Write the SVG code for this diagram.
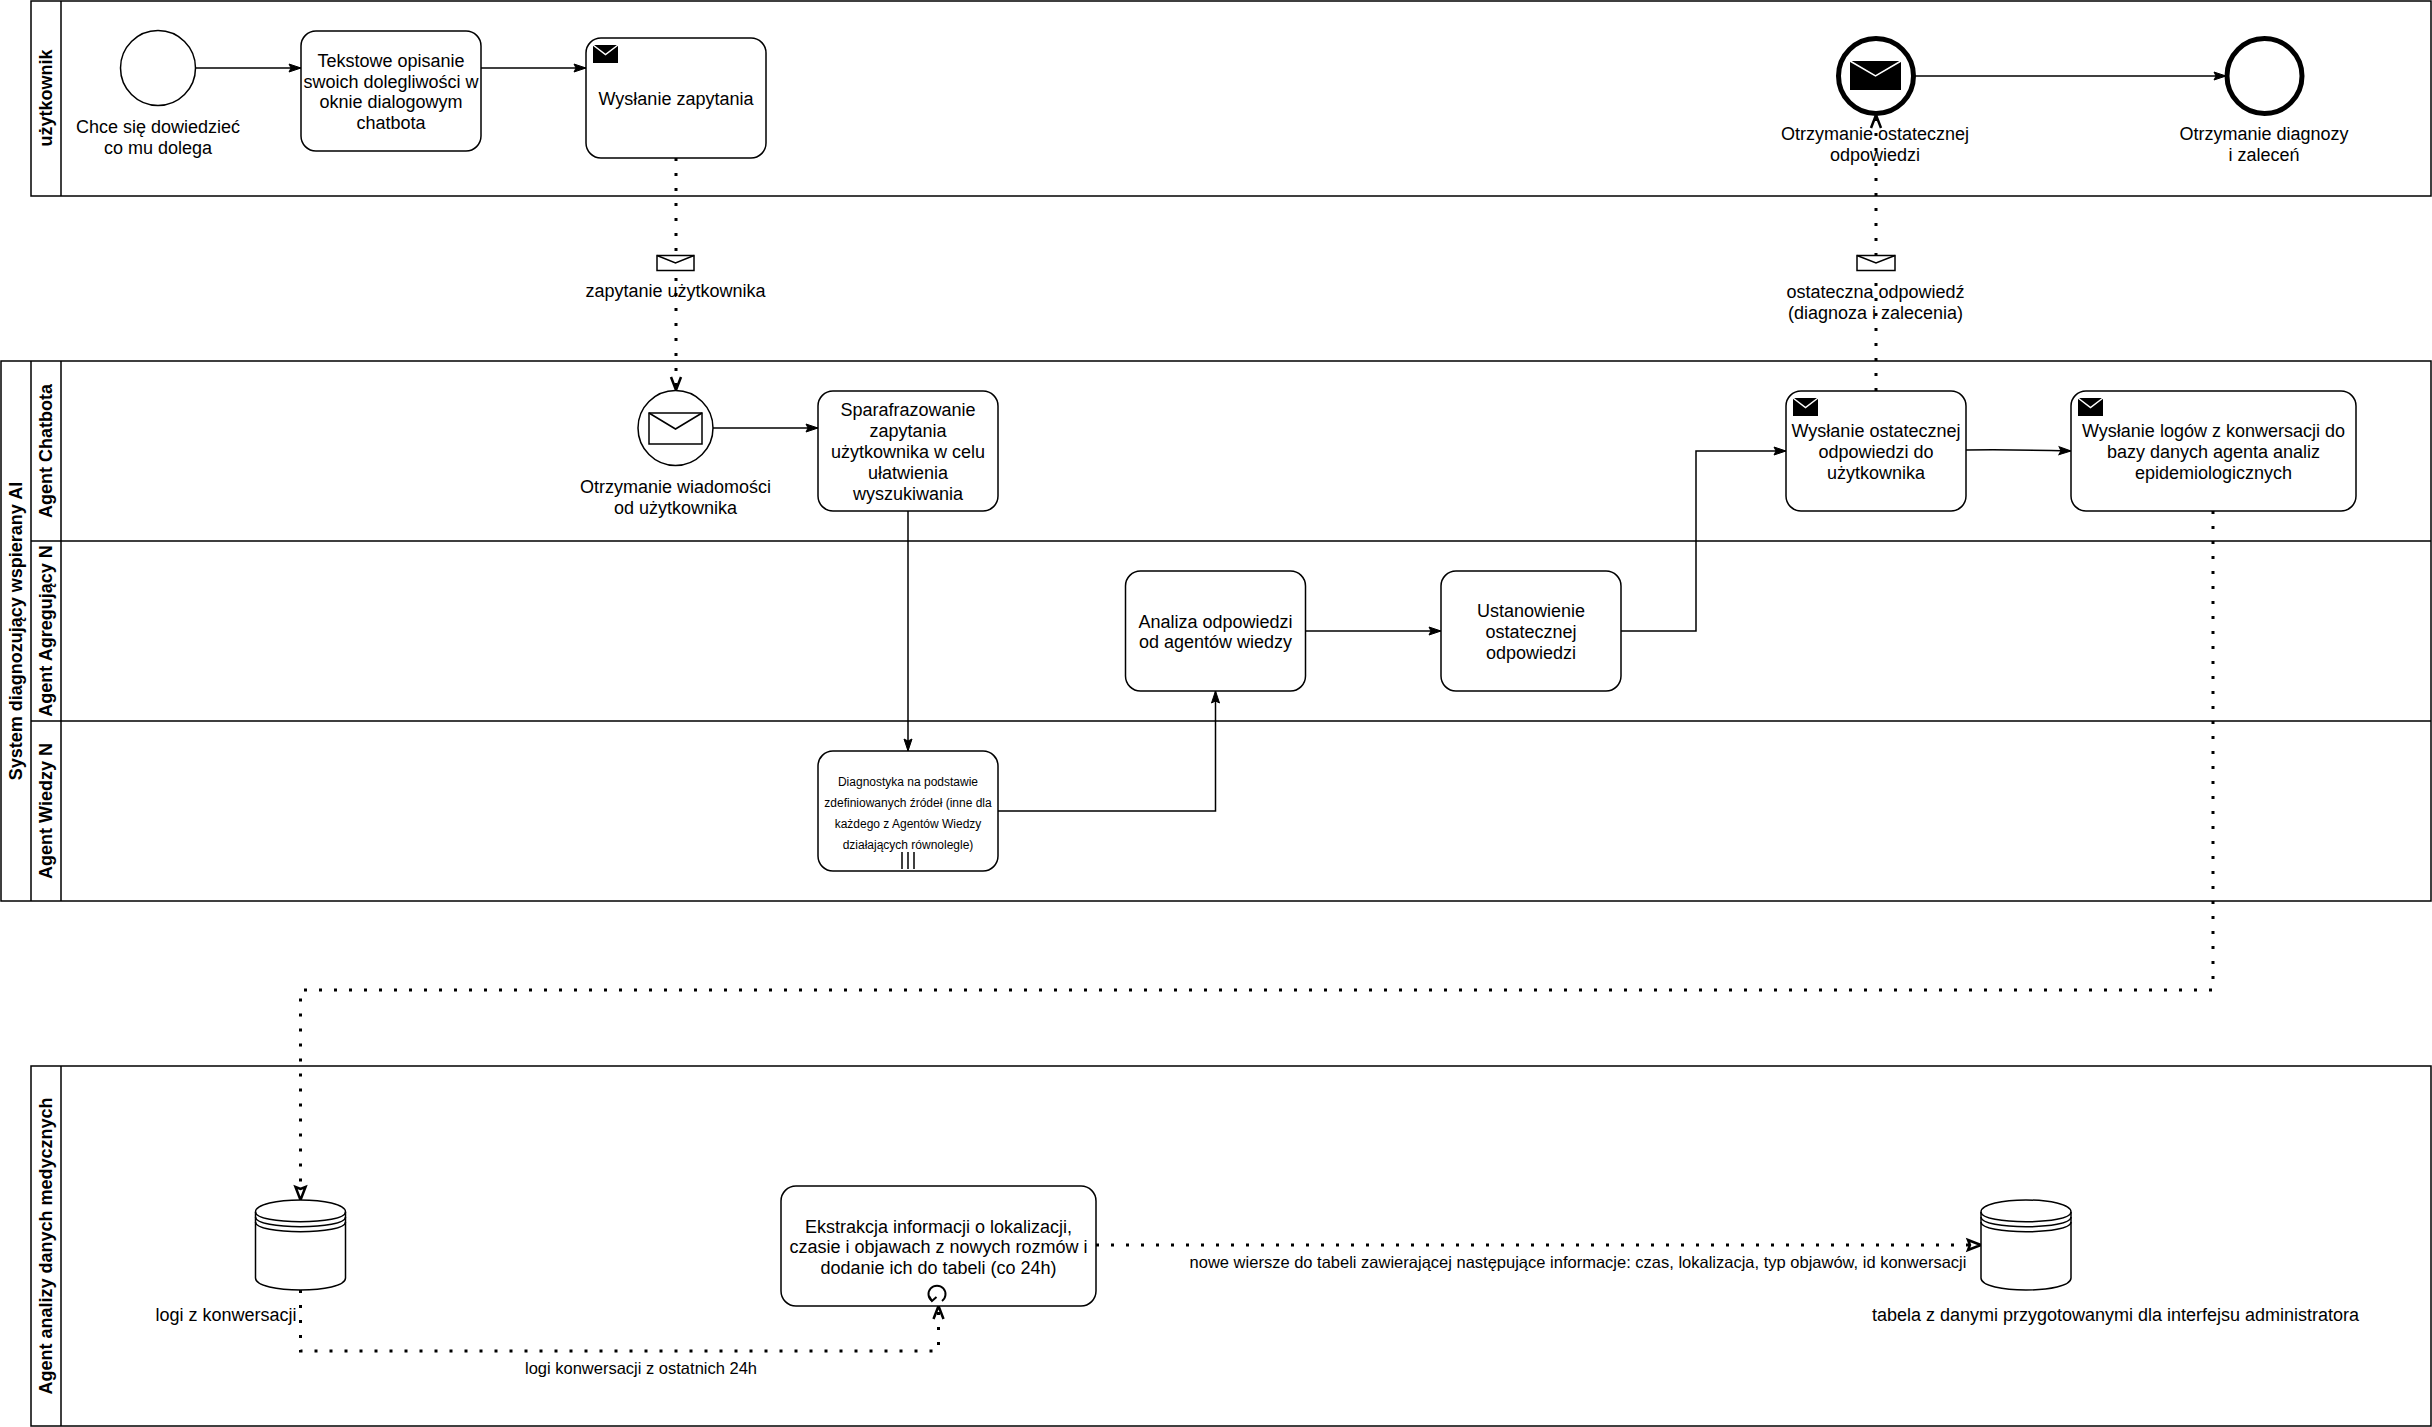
<svg xmlns="http://www.w3.org/2000/svg" width="2432" height="1427" viewBox="0 0 2432 1427">
<style>
text{font-family:"Liberation Sans",Arial,sans-serif;font-size:18px;fill:#000;text-anchor:middle}
.h{font-weight:bold}
.s{font-size:12px}
.m{font-size:16.500px}
.b{fill:#fff;stroke:#000;stroke-width:1.5}
.p{fill:none;stroke:#000;stroke-width:1.5}
.t{fill:#fff;stroke:#000;stroke-width:1.5}
.ev{fill:#fff;stroke:#000;stroke-width:1.5}
.ex{fill:#fff;stroke:#000;stroke-width:5}
.f{fill:none;stroke:#000;stroke-width:1.5;marker-end:url(#solid)}
.d{fill:none;stroke:#000;stroke-width:3;stroke-dasharray:3 12}
.wl{fill:none;stroke:#fff;stroke-width:1.5}
</style>
<defs>
<marker id="solid" markerUnits="userSpaceOnUse" markerWidth="14" markerHeight="10" refX="12" refY="4" orient="auto" overflow="visible"><path d="M0 0L12 4L0 8L2 4Z" fill="#000" stroke="#000" stroke-width="1"/></marker>
<marker id="open" markerUnits="userSpaceOnUse" markerWidth="16" markerHeight="12" refX="13" refY="5" orient="auto" overflow="visible"><path d="M0 0L13 5L0 10" fill="none" stroke="#000" stroke-width="2.500"/></marker>
<marker id="hollow" markerUnits="userSpaceOnUse" markerWidth="16" markerHeight="12" refX="13" refY="5" orient="auto" overflow="visible"><path d="M0 0L13 5L0 10L2 5Z" fill="#fff" stroke="#000" stroke-width="2.500"/></marker>
<g id="mail"><rect x="0" y="0" width="25" height="18" fill="#000"/><path d="M0 0L12.5 9.5L25 0" class="wl"/></g>
<g id="db">
<path d="M0 12C0 -4 90 -4 90 12V78C90 94 0 94 0 78Z" class="b"/>
<path d="M0 12C0 25 90 25 90 12M0 17C0 30 90 30 90 17M0 22C0 35 90 35 90 22" class="p"/>
</g>
</defs>

<g id="pool-uzytkownik">
<rect x="31" y="1" width="2400" height="195" class="b"/><path d="M61 1V196" class="p"/>
<text class="h" transform="translate(52 98) rotate(-90)">użytkownik</text>
</g>
<g id="pool-system">
<rect x="1" y="361" width="2430" height="540" class="b"/><path d="M31 361V901M61 361V901M31 541H2431M31 721H2431" class="p"/>
<text class="h" transform="translate(22 631) rotate(-90)">System diagnozujący wspierany AI</text>
<text class="h" transform="translate(52 451) rotate(-90)">Agent Chatbota</text>
<text class="h" transform="translate(52 631) rotate(-90)">Agent Agregujący N</text>
<text class="h" transform="translate(52 811) rotate(-90)">Agent Wiedzy N</text>
</g>
<g id="pool-analiza">
<rect x="31" y="1066" width="2400" height="360" class="b"/><path d="M61 1066V1426" class="p"/>
<text class="h" transform="translate(52 1246) rotate(-90)">Agent analizy danych medycznych</text>
</g>

<g id="connectors">
<path class="f" d="M195 68H301"/>
<path class="f" d="M481 68H586"/>
<path class="f" d="M1915 76H2226"/>
<path class="f" d="M713 428H818"/>
<path class="f" d="M908 511V751"/>
<path class="f" d="M998 811H1215.500V691"/>
<path class="f" d="M1305.500 631H1441"/>
<path class="f" d="M1621 631H1696V451H1786"/>
<path class="f" d="M1966 450C2000 449.500 2035 450 2071 451"/>
<path class="d" marker-end="url(#open)" d="M676 158V390"/>
<path class="d" marker-end="url(#open)" d="M1876 391V115"/>
<path class="d" marker-end="url(#hollow)" d="M2213 511V990H300.500V1200"/>
<path class="d" marker-end="url(#open)" d="M300.500 1290V1351H938.500V1306"/>
<path class="d" marker-end="url(#hollow)" d="M1096 1245H1981"/>
</g>

<g id="start-event"><ellipse cx="158" cy="68" rx="37.500" ry="37.500" class="ev"/><text x="158" y="133">Chce się dowiedzieć</text><text x="158" y="154">co mu dolega</text></g>
<g id="task-opis"><rect x="301" y="31" width="180" height="120" rx="15" class="t"/><text x="391" y="67">Tekstowe opisanie</text><text x="391" y="88">swoich dolegliwości w</text><text x="391" y="108">oknie dialogowym</text><text x="391" y="129">chatbota</text></g>
<g id="task-zapytanie"><rect x="586" y="38" width="180" height="120" rx="15" class="t"/><use href="#mail" x="593" y="45"/><text x="676" y="105">Wysłanie zapytania</text></g>
<g id="event-odpowiedz"><ellipse cx="1876" cy="76" rx="37.500" ry="37.500" class="ex"/><rect x="1850" y="61" width="51" height="29" fill="#000"/><path d="M1850 61L1875.500 76L1901 61" fill="none" stroke="#fff" stroke-width="1.500"/><text x="1875" y="140">Otrzymanie ostatecznej</text><text x="1875" y="161">odpowiedzi</text></g>
<g id="end-event"><ellipse cx="2264.500" cy="76" rx="37.500" ry="37.500" class="ex"/><text x="2264" y="140">Otrzymanie diagnozy</text><text x="2264" y="161">i zaleceń</text></g>
<g id="message-zapytanie"><rect x="657" y="255.500" width="37" height="15" class="b"/><path d="M657 255.500L675.500 263L694 255.500" class="p"/><text x="675.500" y="297">zapytanie użytkownika</text></g>
<g id="message-odpowiedz"><rect x="1857" y="255.500" width="38" height="15" class="b"/><path d="M1857 255.500L1876 263L1895 255.500" class="p"/><text x="1875.500" y="298">ostateczna odpowiedź</text><text x="1875.500" y="319">(diagnoza i zalecenia)</text></g>
<g id="event-wiadomosc"><ellipse cx="675.500" cy="428" rx="37.500" ry="37.500" class="ev"/><rect x="649" y="413" width="53" height="31" class="b"/><path d="M649 413L675.500 429L702 413" class="p"/><text x="675.500" y="493">Otrzymanie wiadomości</text><text x="675.500" y="514">od użytkownika</text></g>
<g id="task-parafraza"><rect x="818" y="391" width="180" height="120" rx="15" class="t"/><text x="908" y="416">Sparafrazowanie</text><text x="908" y="437">zapytania</text><text x="908" y="458">użytkownika w celu</text><text x="908" y="479">ułatwienia</text><text x="908" y="500">wyszukiwania</text></g>
<g id="task-wyslanie-odp"><rect x="1786" y="391" width="180" height="120" rx="15" class="t"/><use href="#mail" x="1793" y="398"/><text x="1876" y="437">Wysłanie ostatecznej</text><text x="1876" y="458">odpowiedzi do</text><text x="1876" y="479">użytkownika</text></g>
<g id="task-wyslanie-logow"><rect x="2071" y="391" width="285" height="120" rx="15" class="t"/><use href="#mail" x="2078" y="398"/><text x="2213.500" y="437">Wysłanie logów z konwersacji do</text><text x="2213.500" y="458">bazy danych agenta analiz</text><text x="2213.500" y="479">epidemiologicznych</text></g>
<g id="task-analiza"><rect x="1125.500" y="571" width="180" height="120" rx="15" class="t"/><text x="1215.500" y="628">Analiza odpowiedzi</text><text x="1215.500" y="648">od agentów wiedzy</text></g>
<g id="task-ustanowienie"><rect x="1441" y="571" width="180" height="120" rx="15" class="t"/><text x="1531" y="617">Ustanowienie</text><text x="1531" y="638">ostatecznej</text><text x="1531" y="659">odpowiedzi</text></g>
<g id="task-diagnostyka"><rect x="818" y="751" width="180" height="120" rx="15" class="t"/><text class="s" x="908" y="786">Diagnostyka na podstawie</text><text class="s" x="908" y="807">zdefiniowanych źródeł (inne dla</text><text class="s" x="908" y="828">każdego z Agentów Wiedzy</text><text class="s" x="908" y="849">działających równolegle)</text><path d="M902 852V869M908 852V869M914 852V869" class="p"/></g>
<g id="db-logi"><use href="#db" x="255.500" y="1200"/><text x="226" y="1321">logi z konwersacji</text></g>
<g id="task-ekstrakcja"><rect x="781" y="1186" width="315" height="120" rx="15" class="t"/><text x="938.500" y="1233">Ekstrakcja informacji o lokalizacji,</text><text x="938.500" y="1253">czasie i objawach z nowych rozmów i</text><text x="938.500" y="1274">dodanie ich do tabeli (co 24h)</text><path d="M932 1301A8.500 8.500 0 1 1 942 1301" fill="none" stroke="#000" stroke-width="2"/><path d="M929 1296L932 1301L936.500 1297" fill="none" stroke="#000" stroke-width="2"/></g>
<g id="db-tabela"><use href="#db" x="1981" y="1200"/><text x="2115.500" y="1321">tabela z danymi przygotowanymi dla interfejsu administratora</text></g>
<text class="m" x="641" y="1373.500">logi konwersacji z ostatnich 24h</text>
<text class="m" x="1578" y="1267.500">nowe wiersze do tabeli zawierającej następujące informacje: czas, lokalizacja, typ objawów, id konwersacji</text>
</svg>
